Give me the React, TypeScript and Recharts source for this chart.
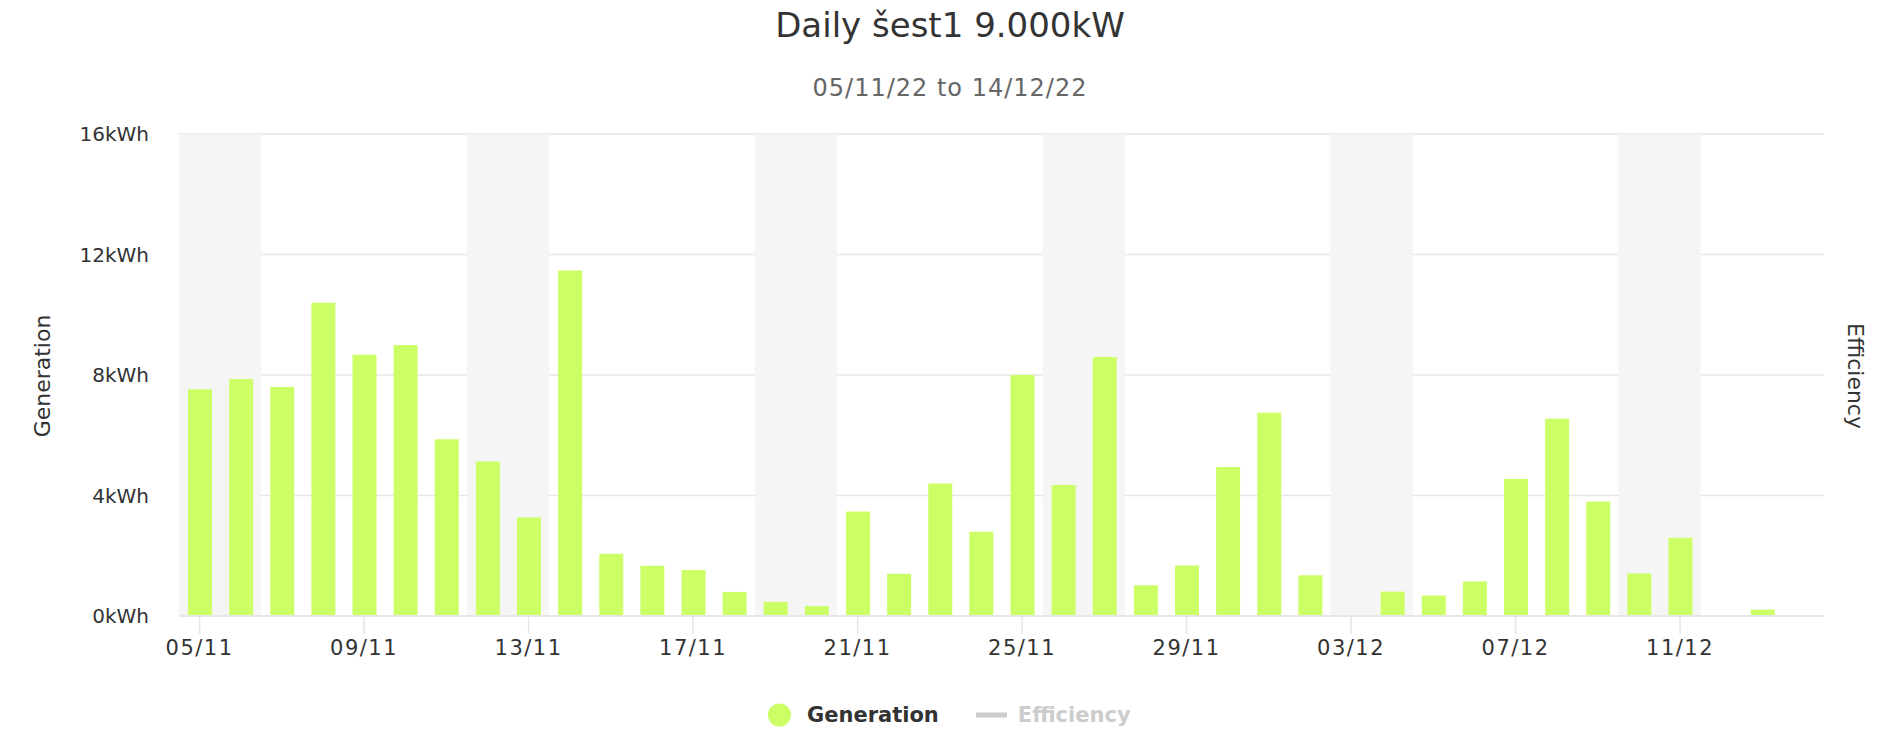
import { Bar, BarChart, CartesianGrid, ReferenceArea, XAxis, YAxis } from 'recharts'

const FONT = "'DejaVu Sans', Verdana, sans-serif"

const TITLE = 'Daily šest1 9.000kW'
const SUBTITLE = '05/11/22 to 14/12/22'

const DAYS = [
  '05/11', '06/11', '07/11', '08/11', '09/11', '10/11', '11/11', '12/11',
  '13/11', '14/11', '15/11', '16/11', '17/11', '18/11', '19/11', '20/11',
  '21/11', '22/11', '23/11', '24/11', '25/11', '26/11', '27/11', '28/11',
  '29/11', '30/11', '01/12', '02/12', '03/12', '04/12', '05/12', '06/12',
  '07/12', '08/12', '09/12', '10/12', '11/12', '12/12', '13/12', '14/12',
]

// kWh per day, null = no reading
const GENERATION = [
  7.53, 7.87, 7.6, 10.4, 8.67, 9.0, 5.87, 5.13,
  3.27, 11.47, 2.07, 1.67, 1.53, 0.8, 0.47, 0.33,
  3.47, 1.4, 4.4, 2.8, 8.0, 4.35, 8.6, 1.02,
  1.68, 4.95, 6.75, 1.35, null, 0.81, 0.68, 1.15,
  4.55, 6.55, 3.8, 1.41, 2.6, null, 0.21, null,
]

const WEEKENDS = [
  ['05/11', '06/11'],
  ['12/11', '13/11'],
  ['19/11', '20/11'],
  ['26/11', '27/11'],
  ['03/12', '04/12'],
  ['10/12', '11/12'],
]

const Y_TICKS = [0, 4, 8, 12, 16]

const LEGEND = [
  { name: 'Generation', color: '#ccff66', active: true, symbol: 'circle' },
  { name: 'Efficiency', color: '#cccccc', active: false, symbol: 'line' },
]

const data = DAYS.map((day, i) => ({ day, generation: GENERATION[i] }))

function Legend() {
  return (
    <div
      style={{
        position: 'absolute',
        left: 768,
        top: 715,
        transform: 'translateY(-50%)',
        display: 'flex',
        alignItems: 'center',
        fontFamily: FONT,
        fontWeight: 'bold',
        fontSize: 21,
        lineHeight: 1,
      }}
    >
      {LEGEND.map((item, i) => (
        <span
          key={item.name}
          style={{
            display: 'flex',
            alignItems: 'center',
            marginLeft: i === 0 ? 0 : 37,
            color: item.active ? '#333333' : '#cccccc',
          }}
        >
          {item.symbol === 'circle' ? (
            <span
              style={{
                width: 23,
                height: 23,
                borderRadius: '50%',
                background: item.color,
                marginRight: 16,
              }}
            />
          ) : (
            <span
              style={{
                width: 31,
                height: 5,
                background: item.color,
                marginRight: 11,
              }}
            />
          )}
          {item.name}
        </span>
      ))}
    </div>
  )
}

export default function App() {
  return (
    <div
      style={{
        position: 'fixed',
        left: 0,
        top: 0,
        width: 1900,
        height: 750,
        background: '#ffffff',
        fontFamily: FONT,
      }}
    >
      <div
        style={{
          position: 'absolute',
          left: 0,
          width: 1900,
          top: 25,
          transform: 'translateY(-50%)',
          textAlign: 'center',
          fontSize: 34,
          lineHeight: 1,
          color: '#333333',
        }}
      >
        {TITLE}
      </div>
      <div
        style={{
          position: 'absolute',
          left: 0,
          width: 1900,
          top: 88,
          transform: 'translateY(-50%)',
          textAlign: 'center',
          fontSize: 24,
          letterSpacing: 1,
          lineHeight: 1,
          color: '#666666',
        }}
      >
        {SUBTITLE}
      </div>

      <BarChart
        width={1900}
        height={750}
        data={data}
        margin={{ top: 134, right: 76, bottom: 74, left: 119 }}
      >
        {WEEKENDS.map(([a, b]) => (
          <ReferenceArea
            key={a}
            x1={a}
            x2={b}
            fill="#f5f5f5"
            fillOpacity={1}
            stroke="none"
            ifOverflow="visible"
          />
        ))}
        <CartesianGrid vertical={false} stroke="#e6e6e6" strokeWidth={1.5} />
        <XAxis
          dataKey="day"
          interval={3}
          height={60}
          tickSize={18}
          tickMargin={6}
          axisLine={{ stroke: '#e6e6e6', strokeWidth: 2 }}
          tickLine={{ stroke: '#e6e6e6', strokeWidth: 1.5 }}
          tick={{ fill: '#333333', fontSize: 21, fontFamily: FONT, letterSpacing: 1.5 }}
        />
        <YAxis
          domain={[0, 16]}
          ticks={Y_TICKS}
          width={60}
          axisLine={false}
          tickLine={false}
          tickSize={0}
          tickMargin={30}
          tickFormatter={(v) => `${v}kWh`}
          tick={{ fill: '#333333', fontSize: 20, fontFamily: FONT }}
        />
        <Bar
          dataKey="generation"
          fill="#ccff66"
          barSize={24}
          isAnimationActive={false}
        />
      </BarChart>

      <div
        style={{
          position: 'absolute',
          left: 43,
          top: 376,
          transform: 'translate(-50%, -50%) rotate(-90deg)',
          fontSize: 22,
          lineHeight: 1,
          color: '#333333',
          whiteSpace: 'nowrap',
        }}
      >
        Generation
      </div>
      <div
        style={{
          position: 'absolute',
          left: 1855,
          top: 376,
          transform: 'translate(-50%, -50%) rotate(90deg)',
          fontSize: 22,
          lineHeight: 1,
          color: '#333333',
          whiteSpace: 'nowrap',
        }}
      >
        Efficiency
      </div>

      <Legend />
    </div>
  )
}
